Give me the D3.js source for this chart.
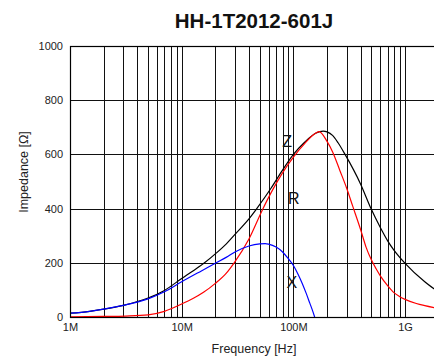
<!DOCTYPE html>
<html>
<head>
<meta charset="utf-8">
<script src="https://cdn.jsdelivr.net/npm/d3@7/dist/d3.min.js"></script>
<style>
  html, body { margin: 0; padding: 0; background: #fff; }
  svg { display: block; font-family: "Liberation Sans", Arial, sans-serif; }
</style>
</head>
<body>
<svg id="chart" width="434" height="360"></svg>
<script>
// ---- data ----
const title = "HH-1T2012-601J";
const xTickValues = [1e6, 1e7, 1e8, 1e9];
const xTickLabels = ["1M", "10M", "100M", "1G"];
const yTickValues = [0, 200, 400, 600, 800, 1000];

const zFreq = [1e6, 1.5e6, 2e6, 3e6, 5e6, 7e6, 1e7, 1.26e7, 1.6e7, 2e7, 2.51e7, 3e7, 4e7, 4.7e7, 6.3e7, 7.94e7, 1e8, 1.26e8, 1.58e8, 1.85e8, 2e8, 2.24e8, 2.51e8, 2.9e8, 4e8, 4.95e8, 6e8, 7e8, 7.94e8, 1e9, 1.5e9, 1.9e9];
const zVals = [14, 21, 29, 43, 70, 98, 142, 170, 200, 233, 270, 305, 362, 400, 475, 540, 600, 645, 678, 686, 683, 670, 643, 600, 490, 400, 330, 280, 247, 198, 130, 98];

const rFreq = [1e6, 2e6, 3.16e6, 5e6, 7e6, 1e7, 1.26e7, 1.58e7, 2e7, 2.51e7, 2.95e7, 4e7, 5.3e7, 6.3e7, 7.94e7, 1e8, 1.26e8, 1.58e8, 1.7e8, 2e8, 2.24e8, 2.61e8, 3e8, 3.39e8, 4e8, 4.47e8, 5e8, 5.5e8, 6e8, 7e8, 7.94e8, 8.9e8, 1e9, 1.26e9, 1.5e9, 1.9e9];
const rVals = [1, 2, 3.5, 8, 21, 48, 68, 92, 124, 162, 200, 288, 397, 458, 530, 590, 640, 678, 684, 648, 610, 540, 475, 410, 322, 258, 210, 178, 152, 115, 90, 76, 65, 50, 42, 33];

const xFreq = [1e6, 1.5e6, 2e6, 3e6, 5e6, 7e6, 1e7, 1.5e7, 2e7, 2.5e7, 3e7, 4e7, 5e7, 5.6e7, 6e7, 7e7, 8e7, 9e7, 1e8, 1.1e8, 1.2e8, 1.3e8, 1.4e8, 1.5e8, 1.55e8];
const xVals = [14, 21, 29, 43, 67, 93, 130, 170, 198, 220, 240, 262, 270, 271, 269, 258, 240, 215, 190, 158, 124, 88, 52, 18, 0];

const seriesNames = ["Z", "R", "X"];
const seriesColors = ["#000000", "#ff0000", "#0000ff"];
const labelFreq = [8.8e7, 1.01e8, 9.7e7];
const labelVal = [647, 439, 127];

// ---- layout ----
const svg = d3.select("#chart");
const plotLeft = 70, plotTop = 46, plotBottom = 317;
const decade = 111.7;
const xMax = 3e9;
const plotRight = plotLeft + Math.log10(xMax / 1e6) * decade;

const x = d3.scaleLog().domain([1e6, xMax]).range([plotLeft, plotRight]);
const y = d3.scaleLinear().domain([0, 1000]).range([plotBottom, plotTop]);

svg.append("defs").append("clipPath").attr("id", "plotclip")
  .append("rect").attr("x", plotLeft).attr("y", plotTop).attr("width", plotRight - plotLeft).attr("height", plotBottom - plotTop);

// grid lines
const gridG = svg.append("g").attr("stroke", "#111").attr("stroke-width", 1).attr("shape-rendering", "crispEdges");
const minorVals = [];
for (let e = 6; e <= 9; e++) for (let m = 1; m <= 9; m++) { const v = m * Math.pow(10, e); if (v <= xMax) minorVals.push(v); }
gridG.selectAll("line.v").data(minorVals).join("line")
  .attr("x1", d => Math.round(x(d)) + 0.5).attr("x2", d => Math.round(x(d)) + 0.5)
  .attr("y1", plotTop).attr("y2", plotBottom);
gridG.selectAll("line.h").data(yTickValues).join("line")
  .attr("x1", plotLeft).attr("x2", plotRight)
  .attr("y1", d => Math.round(y(d)) + 0.5).attr("y2", d => Math.round(y(d)) + 0.5);

// axes via d3 axis
const xAxis = d3.axisBottom(x).tickValues(xTickValues)
  .tickFormat((d, i) => xTickLabels[i]).tickSize(0).tickPadding(6);
const xg = svg.append("g").attr("transform", `translate(0,${plotBottom})`).call(xAxis);
xg.select(".domain").remove();
xg.selectAll("text").attr("font-size", 11).attr("fill", "#222").attr("font-family", "Liberation Sans, Arial, sans-serif");

const yAxis = d3.axisLeft(y).tickValues(yTickValues).tickFormat(d3.format("d")).tickSize(0).tickPadding(7);
const yg = svg.append("g").attr("transform", `translate(${plotLeft},0)`).call(yAxis);
yg.select(".domain").remove();
yg.selectAll("text").attr("font-size", 11).attr("fill", "#222").attr("font-family", "Liberation Sans, Arial, sans-serif");

// curves
const line = d3.line().x(d => x(d[0])).y(d => y(d[1])).curve(d3.curveMonotoneX);
const series = [
  { f: zFreq, v: zVals },
  { f: rFreq, v: rVals },
  { f: xFreq, v: xVals }
];
const curveG = svg.append("g").attr("clip-path", "url(#plotclip)");
series.forEach((s, i) => {
  curveG.append("path")
    .datum(s.f.map((f, j) => [f, s.v[j]]))
    .attr("d", line)
    .attr("fill", "none")
    .attr("stroke", seriesColors[i])
    .attr("stroke-width", 1.2);
});

// series labels
svg.append("g").selectAll("text").data(seriesNames).join("text")
  .attr("x", (d, i) => x(labelFreq[i]))
  .attr("y", (d, i) => y(labelVal[i]))
  .attr("text-anchor", "middle")
  .attr("dominant-baseline", "central")
  .attr("font-size", 16)
  .attr("fill", "#111")
  .text(d => d);

// frame
svg.append("rect").attr("x", plotLeft + 0.5).attr("y", plotTop + 0.5)
  .attr("width", plotRight - plotLeft).attr("height", plotBottom - plotTop)
  .attr("fill", "none").attr("stroke", "#000").attr("stroke-width", 1.2);

// titles
svg.append("text").attr("x", 254).attr("y", 28).attr("text-anchor", "middle")
  .attr("font-size", 20.5).attr("font-weight", "bold").attr("fill", "#111").text(title);
svg.append("text").attr("x", 254).attr("y", 353).attr("text-anchor", "middle")
  .attr("font-size", 12.5).attr("fill", "#222").text("Frequency [Hz]");
svg.append("text").attr("transform", "translate(28,172) rotate(-90)").attr("text-anchor", "middle")
  .attr("font-size", 12.5).attr("fill", "#222").text("Impedance [Ω]");
</script>
</body>
</html>
